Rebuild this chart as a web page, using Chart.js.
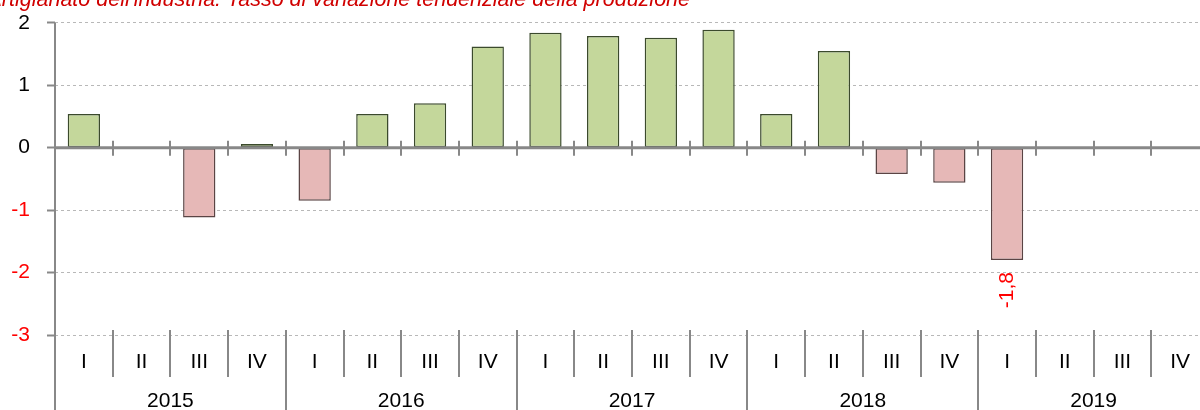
<!DOCTYPE html>
<html>
<head>
<meta charset="utf-8">
<script src="https://cdn.jsdelivr.net/npm/chart.js@4.4.0/dist/chart.umd.min.js"></script>
<style>
  body { margin: 0; overflow: hidden; background: #fff; }
  #wrap { width: 1212px; height: 410px; }
</style>
</head>
<body>
<div id="wrap"><canvas id="chart" width="1212" height="410"></canvas></div>
<script>
const quarters = ["I", "II", "III", "IV", "I", "II", "III", "IV", "I", "II", "III", "IV", "I", "II", "III", "IV", "I", "II", "III", "IV"];
const years = ["2015", "2016", "2017", "2018", "2019"];
const values = [0.54, null, -1.12, 0.06, -0.85, 0.54, 0.71, 1.62, 1.84, 1.79, 1.76, 1.89, 0.54, 1.55, -0.42, -0.56, -1.8, null, null, null];
const yTicks = [2, 1, 0, -1, -2, -3];
const title = "Artigianato dell'industria: Tasso di variazione tendenziale della produzione";
const shownLabel = { index: 16, text: "-1,8" };

const font = '"Liberation Sans", Arial, sans-serif';
const axisGray = "#888888";

const extras = {
  id: "extras",
  afterDatasetsDraw(chart) {
    const { ctx, chartArea, scales } = chart;
    const x = scales.x, y = scales.y;
    const y0 = y.getPixelForValue(0);
    const step = x.getPixelForValue(1) - x.getPixelForValue(0);
    ctx.save();
    ctx.strokeStyle = axisGray;
    ctx.lineWidth = 3;
    // zero line
    ctx.beginPath();
    ctx.moveTo(chartArea.left, y0);
    ctx.lineTo(chartArea.right, y0);
    ctx.stroke();
    ctx.lineWidth = 2;
    for (let i = 0; i <= quarters.length; i++) {
      const px = Math.round(x.getPixelForValue(i) - step / 2);
      if (i > 0) {
        ctx.beginPath();
        ctx.moveTo(px, y0 - 7);
        ctx.lineTo(px, y0 + 8);
        ctx.stroke();
      }
      // separators under the plot
      ctx.beginPath();
      ctx.moveTo(px, chartArea.bottom - 5);
      ctx.lineTo(px, i % 4 === 0 ? 410 : chartArea.bottom + 42);
      ctx.stroke();
    }
    // y axis line
    ctx.beginPath();
    ctx.moveTo(chartArea.left, chartArea.top);
    ctx.lineTo(chartArea.left, 410);
    ctx.stroke();

    ctx.fillStyle = "#000";
    ctx.font = "21px " + font;
    ctx.textAlign = "center";
    ctx.textBaseline = "middle";
    quarters.forEach((q, i) => {
      ctx.fillText(q, x.getPixelForValue(i), chartArea.bottom + 27);
    });
    years.forEach((yr, j) => {
      const cx = (x.getPixelForValue(j * 4) + x.getPixelForValue(j * 4 + 3)) / 2;
      ctx.fillText(yr, cx, chartArea.bottom + 66);
    });

    // data label
    const bar = chart.getDatasetMeta(0).data[shownLabel.index];
    ctx.save();
    ctx.translate(bar.x, bar.y + 12);
    ctx.rotate(-Math.PI / 2);
    ctx.fillStyle = "#ff0000";
    ctx.textAlign = "right";
    ctx.fillText(shownLabel.text, 0, 0);
    ctx.restore();

    // title, cut off at the top
    ctx.fillStyle = "#d00000";
    ctx.font = "italic 21.5px " + font;
    ctx.textAlign = "right";
    ctx.textBaseline = "alphabetic";
    ctx.fillText(title, 690, 6);
    ctx.restore();
  }
};

const ctx = document.getElementById("chart");
new Chart(ctx, {
  type: "bar",
  data: {
    labels: quarters,
    datasets: [{
      data: values,
      backgroundColor: values.map(v => v < 0 ? "#e6b8b7" : "#c4d79b"),
      borderColor: values.map(v => v < 0 ? "#5a4444" : "#3b4a2c"),
      borderWidth: 1.5,
      borderSkipped: false,
      barPercentage: 0.56,
      categoryPercentage: 1
    }]
  },
  options: {
    responsive: false,
    animation: false,
    layout: { padding: { top: 22, bottom: 75, right: 3, left: 0 } },
    plugins: { legend: { display: false }, tooltip: { enabled: false } },
    scales: {
      x: { display: false },
      y: {
        min: -3,
        max: 2,
        afterFit: (s) => { s.width = 55; },
        afterBuildTicks: (s) => { s.ticks = yTicks.map(v => ({ value: v })); },
        ticks: {
          padding: 17,
          font: { size: 21, family: font, lineHeight: 0.55 },
          color: (c) => c.tick.value < 0 ? "#ff0000" : "#000000"
        },
        grid: {
          color: (c) => c.tick.value === 0 ? "rgba(0,0,0,0)" : "#b8b8b8",
          lineWidth: 1,
          tickColor: axisGray,
          tickWidth: 2,
          tickLength: 8
        },
        border: { display: false, dash: [3, 3] }
      }
    }
  },
  plugins: [extras]
});
</script>
</body>
</html>
